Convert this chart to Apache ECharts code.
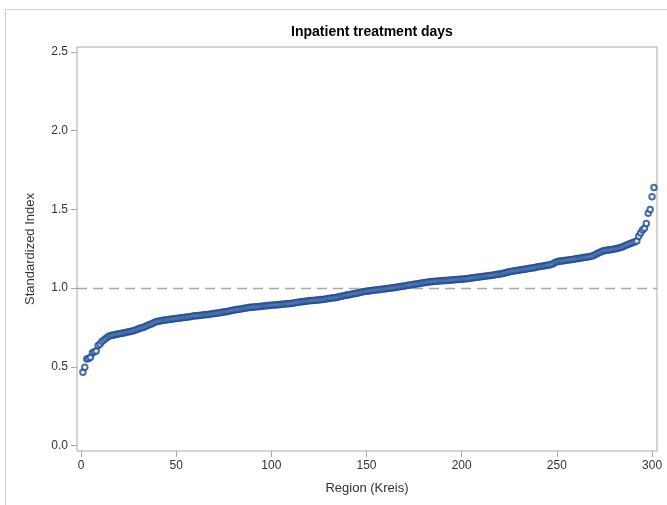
<!DOCTYPE html>
<html>
<head>
<meta charset="utf-8">
<script src="https://cdn.jsdelivr.net/npm/echarts@6/dist/echarts.min.js"></script>
<style>
  html, body { margin: 0; padding: 0; background: #fff; }
  #frame {
    position: absolute; left: 5px; top: 9px; width: 662px; height: 496px;
    border-left: 1px solid #d0d0d0; border-top: 1px solid #d0d0d0;
  }
  #chart { width: 667px; height: 505px; position: absolute; left: 0; top: 0; }
</style>
</head>
<body>
<div id="frame"></div>
<div id="chart"></div>
<script>
// sorted standardized index, one value per region (index 1..301)
const values = [
  0.465, 0.497, 0.55, 0.553, 0.56, 0.59, 0.595, 0.60, 0.635, 0.645,
  0.66, 0.67, 0.68, 0.69, 0.695, 0.70, 0.70, 0.705, 0.707, 0.71,
  0.712, 0.714, 0.716, 0.72, 0.722, 0.725, 0.728, 0.73, 0.735, 0.74,
  0.745, 0.748, 0.752, 0.757, 0.762, 0.768, 0.772, 0.778, 0.784, 0.788,
  0.79, 0.792, 0.795, 0.797, 0.798, 0.80, 0.802, 0.804, 0.806, 0.807,
  0.809, 0.81, 0.812, 0.814, 0.815, 0.817, 0.818, 0.82, 0.822, 0.824,
  0.825, 0.826, 0.828, 0.829, 0.83, 0.832, 0.833, 0.835, 0.837, 0.839,
  0.84, 0.842, 0.844, 0.846, 0.848, 0.85, 0.852, 0.855, 0.857, 0.86,
  0.862, 0.864, 0.866, 0.868, 0.87, 0.872, 0.874, 0.876, 0.878, 0.879,
  0.88, 0.881, 0.882, 0.883, 0.884, 0.886, 0.887, 0.889, 0.89, 0.891,
  0.892, 0.893, 0.894, 0.895, 0.897, 0.898, 0.899, 0.90, 0.901, 0.902,
  0.904, 0.906, 0.908, 0.91, 0.912, 0.913, 0.915, 0.917, 0.918, 0.92,
  0.921, 0.922, 0.923, 0.924, 0.925, 0.927, 0.928, 0.93, 0.932, 0.934,
  0.935, 0.937, 0.939, 0.941, 0.944, 0.946, 0.948, 0.951, 0.954, 0.956,
  0.958, 0.961, 0.964, 0.966, 0.968, 0.971, 0.974, 0.977, 0.979, 0.98,
  0.982, 0.984, 0.985, 0.987, 0.988, 0.99, 0.991, 0.993, 0.994, 0.996,
  0.997, 0.999, 1.0, 1.002, 1.004, 1.006, 1.008, 1.01, 1.012, 1.014,
  1.016, 1.018, 1.02, 1.022, 1.024, 1.026, 1.028, 1.03, 1.032, 1.034,
  1.036, 1.038, 1.04, 1.041, 1.042, 1.043, 1.044, 1.045, 1.046, 1.047,
  1.048, 1.049, 1.05, 1.051, 1.052, 1.053, 1.054, 1.055, 1.056, 1.057,
  1.058, 1.059, 1.06, 1.062, 1.064, 1.066, 1.067, 1.069, 1.07, 1.072,
  1.073, 1.075, 1.077, 1.078, 1.08, 1.082, 1.084, 1.086, 1.088, 1.09,
  1.092, 1.095, 1.098, 1.101, 1.104, 1.106, 1.108, 1.11, 1.112, 1.114,
  1.116, 1.118, 1.12, 1.122, 1.124, 1.126, 1.128, 1.13, 1.133, 1.135,
  1.137, 1.139, 1.141, 1.143, 1.145, 1.147, 1.15, 1.155, 1.162, 1.168,
  1.17, 1.172, 1.173, 1.175, 1.177, 1.178, 1.18, 1.182, 1.184, 1.186,
  1.188, 1.19, 1.192, 1.194, 1.196, 1.198, 1.20, 1.202, 1.206, 1.212,
  1.218, 1.224, 1.23, 1.235, 1.238, 1.24, 1.242, 1.244, 1.246, 1.248,
  1.25, 1.253, 1.256, 1.26, 1.265, 1.27, 1.275, 1.28, 1.285, 1.29,
  1.295, 1.30, 1.33, 1.35, 1.37, 1.38, 1.41, 1.475, 1.50, 1.58,
  1.64
];
const xTicks = [0, 50, 100, 150, 200, 250, 300];
const yTicks = [0, 0.5, 1.0, 1.5, 2.0, 2.5];
const refValue = 1.0;

const points = values.map((v, i) => [i + 1, v]);
const font = "'Liberation Sans', Arial, sans-serif";

const myChart = echarts.init(document.getElementById('chart'), null, { renderer: 'canvas' });
const option = {
  animation: false,
  title: {
    text: 'Inpatient treatment days',
    left: 367,
    textAlign: 'center',
    top: 20,
    textStyle: { fontFamily: font, fontSize: 14, fontWeight: 'bold', color: '#000' }
  },
  grid: {
    left: 77, right: 10, top: 47, bottom: 54,
    show: true, borderColor: '#a8a8a8', borderWidth: 1, backgroundColor: 'transparent'
  },
  xAxis: {
    type: 'value',
    min: -2.1, max: 302.6,
    name: 'Region (Kreis)',
    nameLocation: 'middle',
    nameGap: 31,
    nameTextStyle: { fontFamily: font, fontSize: 13, color: '#333' },
    axisLine: { show: false, onZero: false },
    axisTick: { show: true, customValues: xTicks, length: 6, lineStyle: { color: '#a8a8a8' } },
    axisLabel: { customValues: xTicks, margin: 9, fontFamily: font, fontSize: 12, color: '#333' },
    splitLine: { show: false }
  },
  yAxis: {
    type: 'value',
    min: -0.035, max: 2.532,
    name: 'Standardized Index',
    nameLocation: 'middle',
    nameGap: 40,
    nameTextStyle: { fontFamily: font, fontSize: 13, color: '#333' },
    axisLine: { show: false, onZero: false },
    axisTick: { show: true, customValues: yTicks, length: 6, lineStyle: { color: '#a8a8a8' } },
    axisLabel: {
      customValues: yTicks, margin: 9, fontFamily: font, fontSize: 12, color: '#333',
      formatter: v => v.toFixed(1)
    },
    splitLine: { show: false }
  },
  series: [
    {
      type: 'scatter',
      data: points,
      symbol: 'emptyCircle',
      symbolSize: 5.5,
      itemStyle: { color: '#1c4a94', borderWidth: 1.2 },
      markLine: {
        silent: true,
        symbol: 'none',
        label: { show: false },
        lineStyle: { color: '#a8a8a8', type: [10, 6], width: 1.3 },
        data: [{ yAxis: refValue }],
        z: 1
      },
      z: 3
    }
  ]
};
option && myChart.setOption(option);
</script>
</body>
</html>
